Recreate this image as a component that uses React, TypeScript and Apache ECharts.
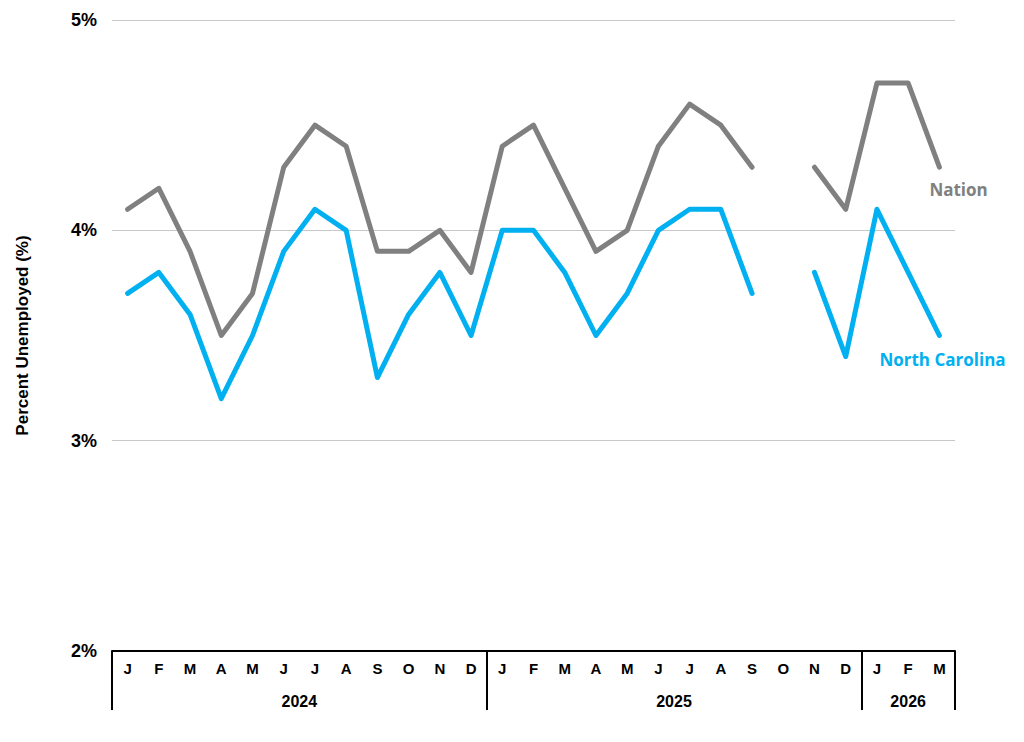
import { useEffect, useRef } from 'react';
import * as echarts from 'echarts';

// months Jan 2024 .. Mar 2026
const months = [
  'J', 'F', 'M', 'A', 'M', 'J', 'J', 'A', 'S', 'O', 'N', 'D',
  'J', 'F', 'M', 'A', 'M', 'J', 'J', 'A', 'S', 'O', 'N', 'D',
  'J', 'F', 'M',
];
const years = ['2024', '2025', '2026'];
const monthsPerYear = [12, 12, 3];

const nation = [
  4.1, 4.2, 3.9, 3.5, 3.7, 4.3, 4.5, 4.4, 3.9, 3.9, 4.0, 3.8,
  4.4, 4.5, 4.2, 3.9, 4.0, 4.4, 4.6, 4.5, 4.3, null, 4.3, 4.1,
  4.7, 4.7, 4.3,
];
const northCarolina = [
  3.7, 3.8, 3.6, 3.2, 3.5, 3.9, 4.1, 4.0, 3.3, 3.6, 3.8, 3.5,
  4.0, 4.0, 3.8, 3.5, 3.7, 4.0, 4.1, 4.1, 3.7, null, 3.8, 3.4,
  4.1, 3.8, 3.5,
];

const GRAY = '#808080';
const BLUE = '#00B0F0';
const FONT = 'Liberation Sans, Arial, sans-serif';

export default function App() {
  const chartRef = useRef<HTMLDivElement>(null);

  useEffect(() => {
    if (!chartRef.current) return;
    const chart = echarts.init(chartRef.current, undefined, { renderer: 'svg' });

    // year separators and year label centres on a 0..n value axis
    const bounds: number[] = [0];
    const centers: number[] = [];
    monthsPerYear.forEach((n) => {
      const start = bounds[bounds.length - 1];
      centers.push(start + n / 2);
      bounds.push(start + n);
    });
    const total = bounds[bounds.length - 1];

    const endLabel = (text: string, color: string, offset: number[]) => ({
      show: true,
      formatter: text,
      offset,
      distance: 0,
      color,
      fontWeight: 'bold',
      fontSize: 17,
      fontFamily: 'Open Sans',
    });

    chart.setOption({
      animation: false,
      grid: {
        left: 104,
        right: 61,
        top: 12,
        bottom: 83,
        containLabel: false,
        outerBoundsMode: 'none',
      },
      xAxis: [
        {
          type: 'category',
          data: months,
          boundaryGap: true,
          axisLine: { lineStyle: { color: '#000', width: 2 } },
          axisTick: { show: false },
          axisLabel: {
            interval: 0,
            margin: 10,
            color: '#000',
            fontWeight: 'bold',
            fontSize: 15,
            fontFamily: FONT,
          },
        },
        {
          type: 'value',
          position: 'bottom',
          min: 0,
          max: total,
          axisLine: { show: false },
          splitLine: { show: false },
          axisTick: {
            show: true,
            customValues: bounds,
            length: 59,
            lineStyle: { color: '#000', width: 2 },
          },
          axisLabel: {
            customValues: centers,
            margin: 42,
            color: '#000',
            fontWeight: 'bold',
            fontSize: 16,
            fontFamily: FONT,
            formatter: (v: number) => years[centers.indexOf(v)] ?? '',
          },
        },
      ],
      yAxis: {
        type: 'value',
        min: 2,
        max: 5,
        interval: 1,
        name: 'Percent Unemployed (%)',
        nameLocation: 'middle',
        nameGap: 81,
        nameRotate: 90,
        nameTextStyle: { color: '#000', fontWeight: 'bold', fontSize: 17, fontFamily: FONT },
        axisLine: { show: false },
        axisTick: { show: false },
        axisLabel: {
          margin: 15,
          color: '#000',
          fontWeight: 'bold',
          fontSize: 18,
          fontFamily: FONT,
          formatter: '{value}%',
        },
        splitLine: { lineStyle: { color: '#c8c8c8', width: 1 } },
      },
      series: [
        {
          name: 'Nation',
          type: 'line',
          data: nation,
          showSymbol: false,
          connectNulls: false,
          endLabel: endLabel('Nation', GRAY, [-10, 22]),
          lineStyle: { color: GRAY, width: 5, cap: 'round', join: 'round' },
          itemStyle: { color: GRAY },
          z: 2,
        },
        {
          name: 'North Carolina',
          type: 'line',
          data: northCarolina,
          showSymbol: false,
          connectNulls: false,
          endLabel: endLabel('North Carolina', BLUE, [-60, 24]),
          lineStyle: { color: BLUE, width: 5, cap: 'round', join: 'round' },
          itemStyle: { color: BLUE },
          z: 3,
        },
      ],
    });

    return () => chart.dispose();
  }, []);

  return <div ref={chartRef} style={{ width: 1008, height: 726 }} />;
}
